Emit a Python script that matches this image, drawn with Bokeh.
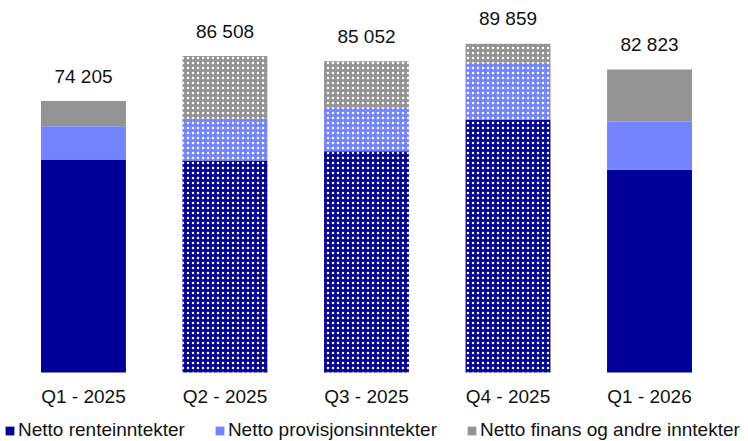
from bokeh.plotting import figure
from bokeh.models import ColumnDataSource, Legend, LegendItem, Range1d
from bokeh.embed import file_html
from bokeh.resources import INLINE
from bokeh.core.properties import value

quarters = ["Q1 - 2025", "Q2 - 2025", "Q3 - 2025", "Q4 - 2025", "Q1 - 2026"]
renteinntekter = [58200, 57950, 60480, 69150, 55400]
provisjonsinntekter = [9100, 11400, 12020, 15500, 13200]
finans_andre = [6905, 17158, 12552, 5209, 14223]
totals = [74205, 86508, 85052, 89859, 82823]
total_labels = ["74 205", "86 508", "85 052", "89 859", "82 823"]
dotted = [False, True, True, True, False]

series = ["renter", "provisjon", "finans"]
names = ["Netto renteinntekter", "Netto provisjonsinntekter", "Netto finans og andre inntekter"]
colors = ["#000099", "#7483FF", "#939393"]

positions = list(range(len(quarters)))


def subset(flag):
    idx = [i for i, d in enumerate(dotted) if d == flag]
    return ColumnDataSource(dict(
        x=[positions[i] for i in idx],
        renter=[renteinntekter[i] for i in idx],
        provisjon=[provisjonsinntekter[i] for i in idx],
        finans=[finans_andre[i] for i in idx],
    ))


plain_src = subset(False)
dot_src = subset(True)
label_src = ColumnDataSource(dict(x=positions, total=totals, label=total_labels,
                                  zero=[0] * len(quarters), q=quarters))

FONT = "Liberation Sans"
FS = "19px"

p = figure(frame_width=736, frame_height=433, x_range=Range1d(-0.558, 4.643),
           y_range=Range1d(-18860, 99500),
           output_backend="svg", toolbar_location=None,
           min_border_left=4, min_border_right=0, min_border_top=8, min_border_bottom=0)
p.outline_line_color = None
p.grid.visible = False
p.axis.visible = False

plain = p.vbar_stack(series, x="x", width=0.6, source=plain_src, color=colors,
                     line_color=None)
p.vbar_stack(series, x="x", width=0.6, source=dot_src, color=colors,
             line_color=None, hatch_pattern=".", hatch_color="white",
             hatch_scale=5, hatch_weight=1)

# total labels above bars
p.text(x="x", y="total", text="label", source=label_src, text_align="center",
       text_baseline="alphabetic", y_offset=-25, text_font=value(FONT),
       text_font_size=FS, text_color="#111111")

# category labels under the baseline
p.text(x="x", y="zero", text="q", source=label_src, text_align="center",
       text_baseline="middle", y_offset=24, text_font=value(FONT),
       text_font_size=FS, text_color="#111111")

legend = Legend(items=[LegendItem(label=n, renderers=[r]) for n, r in zip(names, plain)],
                orientation="horizontal", location=(0, 0), border_line_color=None,
                background_fill_alpha=0, padding=0, margin=0, spacing=29,
                glyph_width=11, glyph_height=11, label_standoff=3,
                label_text_font=FONT, label_text_font_size=FS,
                label_text_color="#111111")
p.add_layout(legend, "center")

open("out.html", "w").write(file_html(p, INLINE))
